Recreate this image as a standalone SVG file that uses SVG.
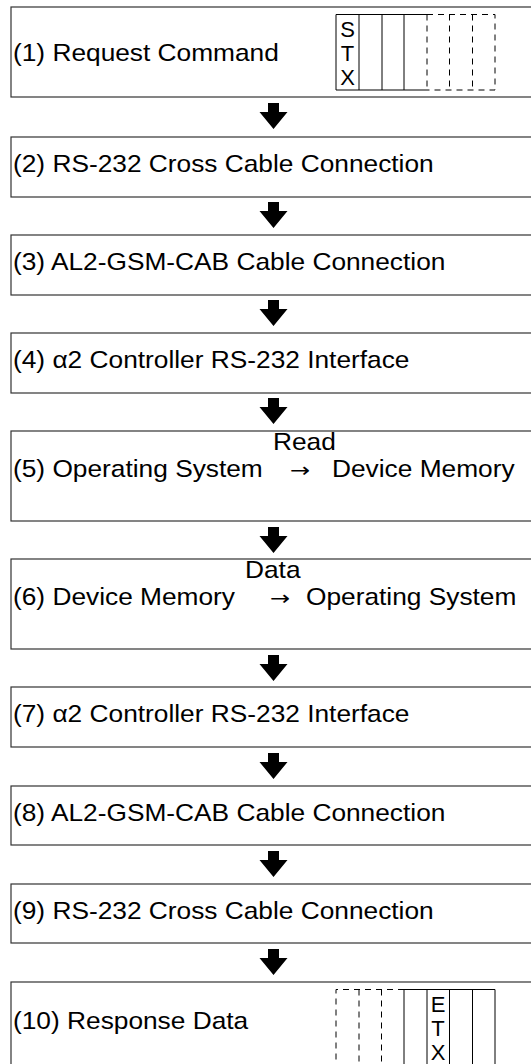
<svg xmlns="http://www.w3.org/2000/svg" width="531" height="1064" viewBox="0 0 531 1064">
<style>
.box{fill:#fff;stroke:#333;stroke-width:1.2}
.t{font-family:"Liberation Sans",Arial,sans-serif;font-size:24px;fill:#000}
.s{font-family:"Liberation Sans",Arial,sans-serif;font-size:22px;fill:#000;text-anchor:middle}
.ar{font-family:"DejaVu Sans","Liberation Sans",sans-serif;font-size:20px;fill:#000;text-anchor:middle}
.g{fill:none;stroke:#000;stroke-width:1}
.d{fill:none;stroke:#000;stroke-width:1;stroke-dasharray:6 5}
.arrow{fill:#000}
</style>
<defs>
<path id="arr" d="M-5.5,0 H5.5 V9 H14 L0,26 L-14,9 H-5.5 Z"/>
</defs>
<rect width="531" height="1064" fill="#fff"/>

<g id="node1">
<rect class="box" x="11" y="7" width="540" height="90"/>
<text class="t" transform="translate(13 61) scale(1.096 1)">(1) Request Command</text>
<path class="g" d="M427,14.5 H336 V90 H427 M359,14.5 V90 M382,14.5 V90 M404,14.5 V90"/>
<path class="d" d="M427,14.5 H495 V90 H427 M427,14.5 V90 M449.5,14.5 V90 M472.5,14.5 V90"/>
<text class="s" x="347.5" y="37">S</text>
<text class="s" x="347.5" y="61">T</text>
<text class="s" x="347.5" y="85">X</text>
</g>

<g id="node2">
<rect class="box" x="11" y="137" width="540" height="60"/>
<text class="t" transform="translate(13 172) scale(1.096 1)">(2) RS-232 Cross Cable Connection</text>
</g>

<g id="node3">
<rect class="box" x="11" y="235" width="540" height="60"/>
<text class="t" transform="translate(13 270) scale(1.096 1)">(3) AL2-GSM-CAB Cable Connection</text>
</g>

<g id="node4">
<rect class="box" x="11" y="333" width="540" height="60"/>
<text class="t" transform="translate(13 368) scale(1.096 1)">(4) α2 Controller RS-232 Interface</text>
</g>

<g id="node5">
<rect class="box" x="11" y="431" width="540" height="90"/>
<text class="t" transform="translate(13 477) scale(1.096 1)">(5) Operating System</text>
<text class="t" transform="translate(273 450) scale(1.096 1)">Read</text>
<text class="ar" transform="translate(300 477) scale(1.2 1)">→</text>
<text class="t" transform="translate(332 477) scale(1.096 1)">Device Memory</text>
</g>

<g id="node6">
<rect class="box" x="11" y="559" width="540" height="90"/>
<text class="t" transform="translate(13 605) scale(1.096 1)">(6) Device Memory</text>
<text class="t" transform="translate(245 578) scale(1.096 1)">Data</text>
<text class="ar" transform="translate(280 605) scale(1.2 1)">→</text>
<text class="t" transform="translate(306 605) scale(1.096 1)">Operating System</text>
</g>

<g id="node7">
<rect class="box" x="11" y="687" width="540" height="60"/>
<text class="t" transform="translate(13 722) scale(1.096 1)">(7) α2 Controller RS-232 Interface</text>
</g>

<g id="node8">
<rect class="box" x="11" y="786" width="540" height="59"/>
<text class="t" transform="translate(13 821) scale(1.096 1)">(8) AL2-GSM-CAB Cable Connection</text>
</g>

<g id="node9">
<rect class="box" x="11" y="884" width="540" height="59"/>
<text class="t" transform="translate(13 919) scale(1.096 1)">(9) RS-232 Cross Cable Connection</text>
</g>

<g id="node10">
<rect class="box" x="11" y="982" width="540" height="100"/>
<text class="t" transform="translate(13 1029) scale(1.096 1)">(10) Response Data</text>
<path class="d" d="M404,989.5 H336 V1070 M359,989.5 V1070 M381.5,989.5 V1070"/>
<path class="g" d="M404,989.5 H495 V1070 M404,989.5 V1070 M427,989.5 V1070 M449.5,989.5 V1070 M472.5,989.5 V1070"/>
<text class="s" x="438" y="1012">E</text>
<text class="s" x="438" y="1036">T</text>
<text class="s" x="438" y="1060">X</text>
</g>

<g id="connectors" class="arrow">
<use href="#arr" transform="translate(273.5 103)"/>
<use href="#arr" transform="translate(273.5 202)"/>
<use href="#arr" transform="translate(273.5 300)"/>
<use href="#arr" transform="translate(273.5 398)"/>
<use href="#arr" transform="translate(273.5 527)"/>
<use href="#arr" transform="translate(273.5 655)"/>
<use href="#arr" transform="translate(273.5 753)"/>
<use href="#arr" transform="translate(273.5 851)"/>
<use href="#arr" transform="translate(273.5 949)"/>
</g>
</svg>
